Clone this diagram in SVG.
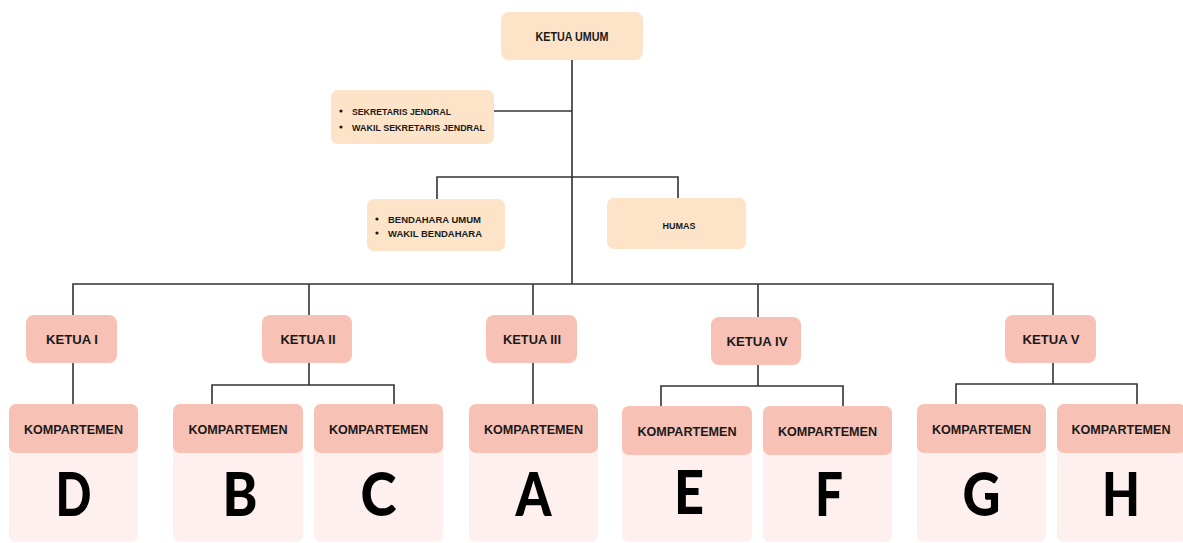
<svg xmlns="http://www.w3.org/2000/svg" width="1183" height="543" viewBox="0 0 1183 543">
<style>
.peach{fill:#fde4c8}
.salmon{fill:#f8c1b5}
.light{fill:#fdf0ee}
.t{font-family:"Liberation Sans",Arial,sans-serif;font-weight:bold;fill:#1a1a1a;text-anchor:middle}
.s{font-family:"Liberation Sans",Arial,sans-serif;font-weight:bold;fill:#1a1a1a;font-size:9.5px}
.big{font-family:Lato,"Open Sans",sans-serif;font-weight:900;fill:#000;text-anchor:middle;font-size:60px}
.c{stroke:#333;stroke-width:1.6;fill:none}
</style>
<rect width="1183" height="543" fill="#ffffff"/>
<g id="connectors" class="c">
<path d="M572 60V284"/>
<path d="M494 111H572"/>
<path d="M437 199V177H678V198"/>
<path d="M73 315V284H1053V315"/>
<path d="M309 284V315M533 284V315M758 284V317"/>
<path d="M73 363V404"/>
<path d="M309 363V385M212 404V385H394V404"/>
<path d="M533 363V404"/>
<path d="M758 365V386M661 406V386H843V406"/>
<path d="M1053 363V384M956 404V384H1137V404"/>
</g>
<g id="ketua-umum">
<rect class="peach" x="501" y="12" width="142" height="48" rx="8"/>
<text class="t" x="572" y="41" font-size="12" textLength="73" lengthAdjust="spacingAndGlyphs">KETUA UMUM</text>
</g>
<g id="sekretaris">
<rect class="peach" x="331" y="90" width="163" height="54" rx="7"/>
<circle cx="341" cy="111" r="1.6" fill="#1a1a1a"/>
<circle cx="341" cy="127" r="1.6" fill="#1a1a1a"/>
<text class="s" x="352" y="114.5" textLength="99" lengthAdjust="spacingAndGlyphs">SEKRETARIS JENDRAL</text>
<text class="s" x="352" y="130.5" textLength="133" lengthAdjust="spacingAndGlyphs">WAKIL SEKRETARIS JENDRAL</text>
</g>
<g id="bendahara">
<rect class="peach" x="367" y="199" width="138" height="52" rx="7"/>
<circle cx="377" cy="219" r="1.6" fill="#1a1a1a"/>
<circle cx="377" cy="233" r="1.6" fill="#1a1a1a"/>
<text class="s" x="388" y="222.5" textLength="93" lengthAdjust="spacingAndGlyphs">BENDAHARA UMUM</text>
<text class="s" x="388" y="236.5" textLength="94" lengthAdjust="spacingAndGlyphs">WAKIL BENDAHARA</text>
</g>
<g id="humas">
<rect class="peach" x="607" y="198" width="139" height="51" rx="7"/>
<text class="t" x="679" y="228.5" font-size="9.5" textLength="33" lengthAdjust="spacingAndGlyphs">HUMAS</text>
</g>
<g id="ketua-1">
<rect class="salmon" x="26" y="315" width="91" height="48" rx="8"/>
<text class="t" x="72" y="344" font-size="13" textLength="52" lengthAdjust="spacingAndGlyphs">KETUA I</text>
</g>
<g id="ketua-2">
<rect class="salmon" x="262" y="315" width="90" height="48" rx="8"/>
<text class="t" x="308" y="344" font-size="13" textLength="55" lengthAdjust="spacingAndGlyphs">KETUA II</text>
</g>
<g id="ketua-3">
<rect class="salmon" x="486" y="315" width="91" height="48" rx="8"/>
<text class="t" x="532" y="344" font-size="13" textLength="58" lengthAdjust="spacingAndGlyphs">KETUA III</text>
</g>
<g id="ketua-4">
<rect class="salmon" x="711" y="317" width="90" height="48" rx="8"/>
<text class="t" x="757" y="346" font-size="13" textLength="61" lengthAdjust="spacingAndGlyphs">KETUA IV</text>
</g>
<g id="ketua-5">
<rect class="salmon" x="1005" y="315" width="91" height="48" rx="8"/>
<text class="t" x="1051" y="344" font-size="13" textLength="57" lengthAdjust="spacingAndGlyphs">KETUA V</text>
</g>
<g id="komp-d">
<rect class="light" x="9" y="404" width="129" height="138" rx="7"/>
<rect class="salmon" x="9" y="404" width="129" height="49" rx="7"/>
<text class="t" x="73.5" y="434" font-size="13" textLength="99" lengthAdjust="spacingAndGlyphs">KOMPARTEMEN</text>
<text class="big" x="73.5" y="516" textLength="36" lengthAdjust="spacingAndGlyphs">D</text>
</g>
<g id="komp-b">
<rect class="light" x="173" y="404" width="130" height="138" rx="7"/>
<rect class="salmon" x="173" y="404" width="130" height="49" rx="7"/>
<text class="t" x="238" y="434" font-size="13" textLength="99" lengthAdjust="spacingAndGlyphs">KOMPARTEMEN</text>
<text class="big" x="240" y="516" textLength="35" lengthAdjust="spacingAndGlyphs">B</text>
</g>
<g id="komp-c">
<rect class="light" x="314" y="404" width="129" height="138" rx="7"/>
<rect class="salmon" x="314" y="404" width="129" height="49" rx="7"/>
<text class="t" x="378.5" y="434" font-size="13" textLength="99" lengthAdjust="spacingAndGlyphs">KOMPARTEMEN</text>
<text class="big" x="378.5" y="516" textLength="36" lengthAdjust="spacingAndGlyphs">C</text>
</g>
<g id="komp-a">
<rect class="light" x="469" y="404" width="129" height="138" rx="7"/>
<rect class="salmon" x="469" y="404" width="129" height="49" rx="7"/>
<text class="t" x="533.5" y="434" font-size="13" textLength="99" lengthAdjust="spacingAndGlyphs">KOMPARTEMEN</text>
<text class="big" x="533.5" y="516" textLength="36" lengthAdjust="spacingAndGlyphs">A</text>
</g>
<g id="komp-e">
<rect class="light" x="622" y="406" width="130" height="136" rx="7"/>
<rect class="salmon" x="622" y="406" width="130" height="49" rx="7"/>
<text class="t" x="687" y="436" font-size="13" textLength="99" lengthAdjust="spacingAndGlyphs">KOMPARTEMEN</text>
<text class="big" x="689" y="514" textLength="30" lengthAdjust="spacingAndGlyphs">E</text>
</g>
<g id="komp-f">
<rect class="light" x="763" y="406" width="129" height="136" rx="7"/>
<rect class="salmon" x="763" y="406" width="129" height="49" rx="7"/>
<text class="t" x="827.5" y="436" font-size="13" textLength="99" lengthAdjust="spacingAndGlyphs">KOMPARTEMEN</text>
<text class="big" x="829" y="516" textLength="28" lengthAdjust="spacingAndGlyphs">F</text>
</g>
<g id="komp-g">
<rect class="light" x="917" y="404" width="129" height="138" rx="7"/>
<rect class="salmon" x="917" y="404" width="129" height="49" rx="7"/>
<text class="t" x="981.5" y="434" font-size="13" textLength="99" lengthAdjust="spacingAndGlyphs">KOMPARTEMEN</text>
<text class="big" x="981.5" y="516" textLength="38" lengthAdjust="spacingAndGlyphs">G</text>
</g>
<g id="komp-h">
<rect class="light" x="1057" y="404" width="129" height="138" rx="7"/>
<rect class="salmon" x="1057" y="404" width="129" height="49" rx="7"/>
<text class="t" x="1121" y="434" font-size="13" textLength="99" lengthAdjust="spacingAndGlyphs">KOMPARTEMEN</text>
<text class="big" x="1121" y="516" textLength="38" lengthAdjust="spacingAndGlyphs">H</text>
</g>
</svg>
